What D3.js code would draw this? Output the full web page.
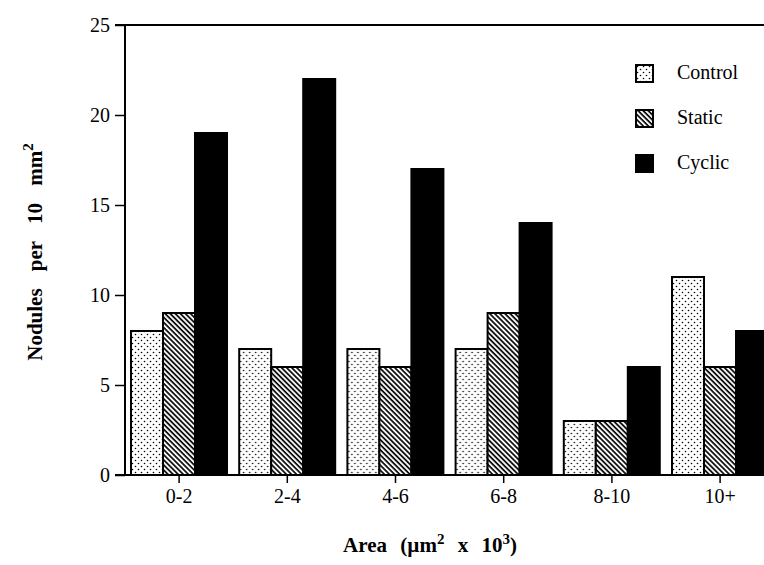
<!DOCTYPE html>
<html>
<head>
<meta charset="utf-8">
<script src="https://cdn.jsdelivr.net/npm/d3@7"></script>
</head>
<body style="margin:0">
<svg id="chart" width="764" height="565"></svg>
<script>
const categories = ["0-2", "2-4", "4-6", "6-8", "8-10", "10+"];
const seriesNames = ["Control", "Static", "Cyclic"];
const control = [8, 7, 7, 7, 3, 11];
const staticV = [9, 6, 6, 9, 3, 6];
const cyclic = [19, 22, 17, 14, 6, 8];
const yTicks = [0, 5, 10, 15, 20, 25];

const seriesValues = { Control: control, Static: staticV, Cyclic: cyclic };
const fills = { Control: "url(#dots)", Static: "url(#hatch)", Cyclic: "#000" };
const FONT = "\"Liberation Serif\"";

// warm up the font
const ctx = document.createElement("canvas").getContext("2d");
ctx.font = `20px ${FONT}`; ctx.measureText("Control");
ctx.font = `bold 20px ${FONT}`; ctx.measureText("Nodules");

const svg = d3.select("#chart");
const defs = svg.append("defs");

const dots = defs.append("pattern").attr("id", "dots")
  .attr("patternUnits", "userSpaceOnUse").attr("width", 6).attr("height", 6);
dots.append("rect").attr("width", 6).attr("height", 6).attr("fill", "#fff");
dots.append("circle").attr("cx", 1.5).attr("cy", 1.5).attr("r", 0.8).attr("fill", "#000");
dots.append("circle").attr("cx", 4.5).attr("cy", 4.5).attr("r", 0.8).attr("fill", "#000");

const hatch = defs.append("pattern").attr("id", "hatch")
  .attr("patternUnits", "userSpaceOnUse").attr("width", 3.6).attr("height", 3.6)
  .attr("patternTransform", "rotate(-45)");
hatch.append("rect").attr("width", 3.6).attr("height", 3.6).attr("fill", "#fff");
hatch.append("line").attr("x1", 1).attr("x2", 1).attr("y1", -1).attr("y2", 5)
  .attr("stroke", "#000").attr("stroke-width", 1.7);

const mLeft = 125, mTop = 25, mBottom = 475;
const step = 108.2;

const y = d3.scaleLinear().domain([0, 25]).range([mBottom, mTop]);
const x0 = d3.scaleBand().domain(categories).range([mLeft, mLeft + step * categories.length]).padding(0);
const x1 = d3.scaleBand().domain(seriesNames).range([6, 102]).padding(0);

// bars
const groups = svg.append("g").selectAll("g").data(categories).join("g")
  .attr("transform", d => `translate(${x0(d)},0)`);
groups.selectAll("rect").data((c, i) => seriesNames.map(s => ({ s, v: seriesValues[s][i] })))
  .join("rect")
  .attr("x", d => x1(d.s))
  .attr("y", d => y(d.v))
  .attr("width", x1.bandwidth())
  .attr("height", d => y(0) - y(d.v))
  .attr("fill", d => fills[d.s])
  .attr("stroke", "#000")
  .attr("stroke-width", 2);

// y axis
const yAxis = d3.axisLeft(y).tickValues(yTicks).tickSize(10).tickPadding(5).tickFormat(d3.format("d"));
const gy = svg.append("g").attr("transform", `translate(${mLeft},0)`).call(yAxis);
gy.attr("font-family", null).attr("font-size", null);
gy.select(".domain").attr("stroke", "#000").attr("stroke-width", 2).attr("d", `M0,${mTop}V${mBottom}`);
gy.selectAll(".tick line").attr("stroke", "#000").attr("stroke-width", 1.5);
gy.selectAll(".tick text").attr("font-family", FONT).attr("font-size", 20).attr("fill", "#000");

// x axis
const xAxis = d3.axisBottom(x0).tickSize(8).tickPadding(6);
const gx = svg.append("g").attr("transform", `translate(0,${mBottom})`).call(xAxis);
gx.attr("font-family", null).attr("font-size", null);
gx.select(".domain").attr("stroke", "#000").attr("stroke-width", 2).attr("d", `M${mLeft - 10},0H764`);
gx.selectAll(".tick line").attr("stroke", "#000").attr("stroke-width", 1.5);
gx.selectAll(".tick text").attr("font-family", FONT).attr("font-size", 20).attr("fill", "#000");

// top border line
svg.append("line").attr("x1", mLeft - 10).attr("x2", 764).attr("y1", mTop).attr("y2", mTop)
  .attr("stroke", "#000").attr("stroke-width", 2);

// legend
const legend = svg.append("g").selectAll("g").data(seriesNames).join("g")
  .attr("transform", (d, i) => `translate(636,${65 + i * 45})`);
legend.append("rect").attr("width", 17).attr("height", 17)
  .attr("fill", d => fills[d]).attr("stroke", "#000").attr("stroke-width", 2);
legend.append("text").attr("x", 41).attr("y", 14)
  .attr("font-family", FONT).attr("font-size", 20).text(d => d);

// y axis title
const yt = svg.append("text")
  .attr("transform", "translate(42,252) rotate(-90)")
  .attr("text-anchor", "middle")
  .attr("font-family", FONT)
  .attr("font-size", 21).attr("font-weight", "bold").attr("word-spacing", 12);
yt.append("tspan").text("Nodules per 10 mm");
yt.append("tspan").attr("dy", -9).attr("font-size", 15).text("2");

// x axis title
const xt = svg.append("text")
  .attr("x", 430).attr("y", 552)
  .attr("text-anchor", "middle")
  .attr("font-family", FONT)
  .attr("font-size", 21).attr("font-weight", "bold").attr("word-spacing", 8);
xt.append("tspan").text("Area (\u00b5m");
xt.append("tspan").attr("dy", -8).attr("font-size", 15).text("2");
xt.append("tspan").attr("dy", 8).text(" x 10");
xt.append("tspan").attr("dy", -8).attr("font-size", 15).text("3");
xt.append("tspan").attr("dy", 8).text(")");
</script>
</body>
</html>
